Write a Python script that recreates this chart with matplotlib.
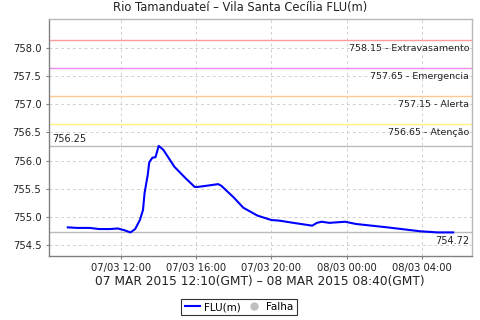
import matplotlib
matplotlib.use("Agg")
import matplotlib.pyplot as plt
import matplotlib.dates as mdates
from matplotlib.lines import Line2D
from datetime import datetime, timedelta

# ---- data ----
times = ["07/03 09:10", "07/03 09:40", "07/03 10:20", "07/03 10:50", "07/03 11:25", "07/03 11:50",
         "07/03 12:10", "07/03 12:30",
         "07/03 12:45", "07/03 13:00", "07/03 13:10", "07/03 13:15", "07/03 13:25",
         "07/03 13:30", "07/03 13:40", "07/03 13:50", "07/03 14:00", "07/03 14:15",
         "07/03 14:50", "07/03 15:25", "07/03 15:55", "07/03 16:05", "07/03 16:45",
         "07/03 17:10", "07/03 17:20", "07/03 18:00", "07/03 18:30", "07/03 19:15",
         "07/03 20:00", "07/03 20:25", "07/03 21:10", "07/03 22:10", "07/03 22:25",
         "07/03 22:40", "07/03 23:05", "07/03 23:55", "08/03 00:30", "08/03 02:10",
         "08/03 03:55", "08/03 04:50", "08/03 05:40"]
levels = [754.81, 754.80, 754.80, 754.78, 754.78, 754.79,
          754.76, 754.72,
          754.78, 754.94, 755.12, 755.42, 755.74,
          755.97, 756.05, 756.06, 756.26, 756.19,
          755.89, 755.69, 755.53, 755.53, 755.56,
          755.58, 755.55, 755.34, 755.16, 755.02,
          754.94, 754.93, 754.89, 754.84, 754.89,
          754.91, 754.89, 754.91, 754.87, 754.81,
          754.74, 754.72, 754.72]
thresholds = [758.15, 757.65, 757.15, 756.65]
threshold_names = ["Extravasamento", "Emergencia", "Alerta", "Atenção"]
threshold_colors = ["#ff9a9a", "#ee8cee", "#ffc890", "#fff080"]
max_level = 756.25
last_level = 754.72
y_ticks = [754.5, 755.0, 755.5, 756.0, 756.5, 757.0, 757.5, 758.0]
title = "Rio Tamanduateí – Vila Santa Cecília FLU(m)"
subtitle = "07 MAR 2015 12:10(GMT) – 08 MAR 2015 08:40(GMT)"

def parse(s):
    return datetime.strptime("2015/" + s, "%Y/%d/%m %H:%M")

t = [parse(s) for s in times]

fig = plt.figure(figsize=(4.8, 3.2), dpi=100)
fig.patch.set_facecolor("white")
ax = fig.add_axes([49/480, 1-256/320, (472-49)/480, (256-19)/320])

x0 = parse("07/03 08:10")
x1 = parse("08/03 06:40")
ax.set_xlim(x0, x1)
ax.set_ylim(754.30, 758.52)

ax.grid(True, color="#d0d0d0", linestyle=(0, (3, 3)), linewidth=0.7)
ax.set_axisbelow(True)

for v, name, c in zip(thresholds, threshold_names, threshold_colors):
    ax.axhline(v, color=c, linewidth=1.0, zorder=2)
    ax.text(0.993, v - 0.07, f"{v:.2f} - {name}", transform=ax.get_yaxis_transform(),
            ha="right", va="top", fontsize=6.8, color="#222222")

ax.axhline(max_level, color="#bbbbbb", linewidth=1.0, zorder=2)
ax.text(0.008, max_level + 0.05, f"{max_level:.2f}", transform=ax.get_yaxis_transform(),
        ha="left", va="bottom", fontsize=7, color="#222222")
ax.axhline(last_level, color="#bbbbbb", linewidth=1.0, zorder=2)
ax.text(0.993, last_level - 0.07, f"{last_level:.2f}", transform=ax.get_yaxis_transform(),
        ha="right", va="top", fontsize=7, color="#222222")

ax.plot(t, levels, color="#0000ff", linewidth=1.5, zorder=3)

ax.set_yticks(y_ticks)
ax.set_yticklabels([f"{v:.1f}" for v in y_ticks])
ax.xaxis.set_major_formatter(mdates.DateFormatter("%d/%m %H:%M"))
xt = [parse("07/03 12:00") + timedelta(hours=4*i) for i in range(5)]
ax.set_xticks(xt)
ax.tick_params(axis="both", labelsize=7.2, colors="#222222", length=2, color="#808080")
ax.tick_params(axis="x", pad=3)

for s in ["left", "bottom"]:
    ax.spines[s].set_color("#808080")
    ax.spines[s].set_linewidth(1.0)
for s in ["top", "right"]:
    ax.spines[s].set_color("#b8b8b8")
    ax.spines[s].set_linewidth(1.0)

fig.text(0.5, 1-8/320, title, ha="center", va="center", fontsize=8.3, color="#222222")
fig.text(260/480, 1-281/320, subtitle, ha="center", va="center", fontsize=8.8, color="#222222")

handles = [Line2D([0], [0], color="#0000ff", linewidth=1.5),
           Line2D([0], [0], color="#c0c0c0", marker="o", linestyle="None", markersize=5)]
leg = fig.legend(handles, ["FLU(m)", "Falha"], loc="center", bbox_to_anchor=(239/480, 1-307/320),
                 ncol=2, fontsize=7.5, frameon=True, fancybox=False, handlelength=1.5,
                 handletextpad=0.4, columnspacing=0.5, borderpad=0.3, borderaxespad=0)
leg.get_frame().set_edgecolor("black")
leg.get_frame().set_linewidth(0.8)

fig.savefig("out.png", dpi=100, facecolor="white")
